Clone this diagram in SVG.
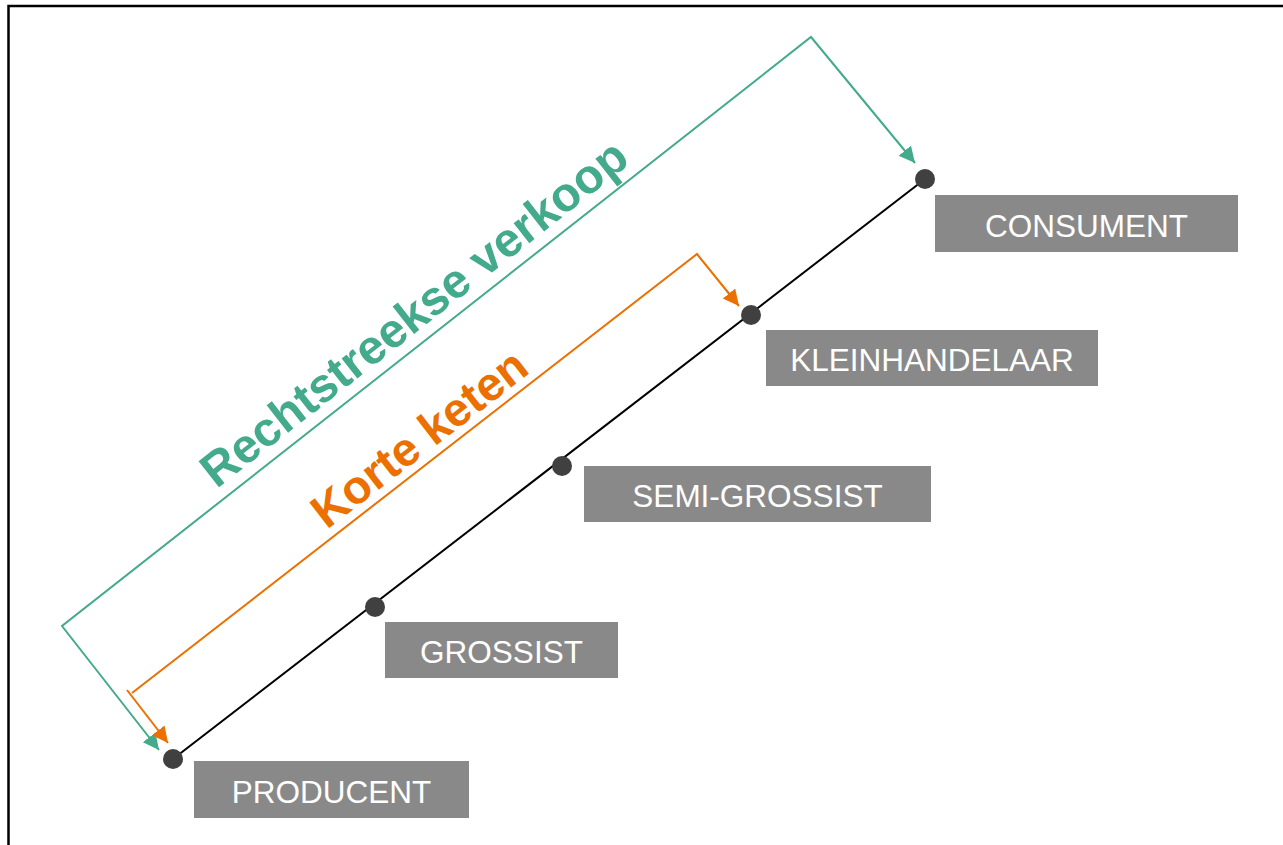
<svg xmlns="http://www.w3.org/2000/svg" width="1283" height="845" viewBox="0 0 1283 845">
  <style>
    .box { fill: #898989; }
    .lbl { font-family: "Liberation Sans", Arial, sans-serif; font-size: 31.5px; fill: #ffffff; text-anchor: middle; }
    .dot { fill: #404040; }
    .big { font-family: "Liberation Sans", Arial, sans-serif; font-weight: bold; text-anchor: middle; }
  </style>
  <defs>
    <marker id="arrG" markerUnits="userSpaceOnUse" markerWidth="18" markerHeight="18" refX="16" refY="8" orient="auto-start-reverse">
      <path d="M0,0 L16,8 L0,16 z" fill="#43AA8B"/>
    </marker>
    <marker id="arrO" markerUnits="userSpaceOnUse" markerWidth="18" markerHeight="18" refX="16" refY="8" orient="auto-start-reverse">
      <path d="M0,0 L16,8 L0,16 z" fill="#EB7000"/>
    </marker>
  </defs>
  <rect x="0" y="0" width="1283" height="845" fill="#ffffff"/>
  <rect x="8.5" y="6" width="1290" height="860" fill="none" stroke="#000" stroke-width="2.5"/>

  <g id="connectors">
    <line x1="173" y1="759" x2="925" y2="179" stroke="#000" stroke-width="2"/>
    <path d="M915,163 L811,37 L62,626 L159,750" fill="none" stroke="#43AA8B" stroke-width="2" marker-start="url(#arrG)" marker-end="url(#arrG)"/>
    <path d="M739,306 L697,254 L132,693" fill="none" stroke="#EB7000" stroke-width="2" marker-start="url(#arrO)"/>
    <path d="M127,690 L168,743" fill="none" stroke="#EB7000" stroke-width="2" marker-end="url(#arrO)"/>
  </g>

  <text class="big" font-size="48" fill="#43AA8B" transform="translate(424,326) rotate(-38.18)">Rechtstreekse verkoop</text>
  <text class="big" font-size="47" fill="#EB7000" transform="translate(429,451) rotate(-37.7)">Korte keten</text>

  <g id="producent">
    <circle class="dot" cx="173" cy="759" r="10"/>
    <rect class="box" x="194" y="761" width="275" height="57"/>
    <text class="lbl" x="331.5" y="803">PRODUCENT</text>
  </g>
  <g id="grossist">
    <circle class="dot" cx="375" cy="607" r="10"/>
    <rect class="box" x="385" y="622" width="233" height="56"/>
    <text class="lbl" x="501.5" y="663">GROSSIST</text>
  </g>
  <g id="semi-grossist">
    <circle class="dot" cx="562" cy="466" r="10"/>
    <rect class="box" x="584" y="466" width="347" height="56"/>
    <text class="lbl" x="757.5" y="507">SEMI-GROSSIST</text>
  </g>
  <g id="kleinhandelaar">
    <circle class="dot" cx="751" cy="315" r="10"/>
    <rect class="box" x="766" y="330" width="332" height="56"/>
    <text class="lbl" x="932" y="371">KLEINHANDELAAR</text>
  </g>
  <g id="consument">
    <circle class="dot" cx="925" cy="179" r="10"/>
    <rect class="box" x="935" y="195" width="303" height="57"/>
    <text class="lbl" x="1086.5" y="237">CONSUMENT</text>
  </g>
</svg>
